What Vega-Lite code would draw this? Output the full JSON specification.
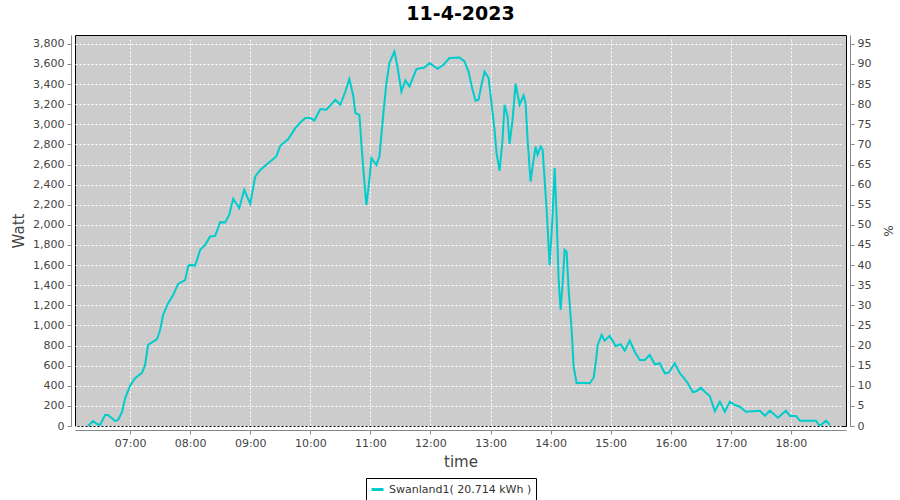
{
  "$schema": "https://vega.github.io/schema/vega-lite/v6.json",
  "width": 771,
  "height": 391,
  "autosize": "none",
  "padding": {"left": 75, "top": 35, "right": 54, "bottom": 74},
  "background": "white",
  "title": {"text": "11-4-2023", "font": "DejaVu Sans", "fontSize": 19, "fontWeight": "bold", "color": "black", "offset": 11},
  "config": {
    "view": {"fill": "#cccccc", "stroke": "black", "strokeWidth": 1},
    "axis": {
      "labelFont": "DejaVu Sans", "labelFontSize": 11, "labelColor": "#444444",
      "titleFont": "DejaVu Sans", "titleFontSize": 15, "titleFontWeight": "normal", "titleColor": "#444444",
      "domainColor": "#888888", "tickColor": "#888888", "tickSize": 4, "labelPadding": 3, "offset": 4,
      "gridColor": "white", "gridDash": [2, 2], "gridOpacity": 1, "gridWidth": 1
    }
  },
  "data": {"values": [
    {"t": "2023-04-11T06:18", "w": 0, "s": "Swanland1( 20.714 kWh )"},
    {"t": "2023-04-11T06:23", "w": 50, "s": "Swanland1( 20.714 kWh )"},
    {"t": "2023-04-11T06:27", "w": 20, "s": "Swanland1( 20.714 kWh )"},
    {"t": "2023-04-11T06:30", "w": 10, "s": "Swanland1( 20.714 kWh )"},
    {"t": "2023-04-11T06:35", "w": 110, "s": "Swanland1( 20.714 kWh )"},
    {"t": "2023-04-11T06:38", "w": 110, "s": "Swanland1( 20.714 kWh )"},
    {"t": "2023-04-11T06:45", "w": 50, "s": "Swanland1( 20.714 kWh )"},
    {"t": "2023-04-11T06:48", "w": 60, "s": "Swanland1( 20.714 kWh )"},
    {"t": "2023-04-11T06:52", "w": 140, "s": "Swanland1( 20.714 kWh )"},
    {"t": "2023-04-11T06:55", "w": 275, "s": "Swanland1( 20.714 kWh )"},
    {"t": "2023-04-11T07:00", "w": 400, "s": "Swanland1( 20.714 kWh )"},
    {"t": "2023-04-11T07:05", "w": 475, "s": "Swanland1( 20.714 kWh )"},
    {"t": "2023-04-11T07:12", "w": 530, "s": "Swanland1( 20.714 kWh )"},
    {"t": "2023-04-11T07:15", "w": 607, "s": "Swanland1( 20.714 kWh )"},
    {"t": "2023-04-11T07:18", "w": 806, "s": "Swanland1( 20.714 kWh )"},
    {"t": "2023-04-11T07:27", "w": 863, "s": "Swanland1( 20.714 kWh )"},
    {"t": "2023-04-11T07:30", "w": 955, "s": "Swanland1( 20.714 kWh )"},
    {"t": "2023-04-11T07:33", "w": 1104, "s": "Swanland1( 20.714 kWh )"},
    {"t": "2023-04-11T07:38", "w": 1221, "s": "Swanland1( 20.714 kWh )"},
    {"t": "2023-04-11T07:43", "w": 1303, "s": "Swanland1( 20.714 kWh )"},
    {"t": "2023-04-11T07:48", "w": 1413, "s": "Swanland1( 20.714 kWh )"},
    {"t": "2023-04-11T07:55", "w": 1450, "s": "Swanland1( 20.714 kWh )"},
    {"t": "2023-04-11T07:58", "w": 1590, "s": "Swanland1( 20.714 kWh )"},
    {"t": "2023-04-11T08:00", "w": 1602, "s": "Swanland1( 20.714 kWh )"},
    {"t": "2023-04-11T08:05", "w": 1595, "s": "Swanland1( 20.714 kWh )"},
    {"t": "2023-04-11T08:10", "w": 1751, "s": "Swanland1( 20.714 kWh )"},
    {"t": "2023-04-11T08:15", "w": 1801, "s": "Swanland1( 20.714 kWh )"},
    {"t": "2023-04-11T08:20", "w": 1884, "s": "Swanland1( 20.714 kWh )"},
    {"t": "2023-04-11T08:25", "w": 1890, "s": "Swanland1( 20.714 kWh )"},
    {"t": "2023-04-11T08:30", "w": 2027, "s": "Swanland1( 20.714 kWh )"},
    {"t": "2023-04-11T08:35", "w": 2023, "s": "Swanland1( 20.714 kWh )"},
    {"t": "2023-04-11T08:39", "w": 2099, "s": "Swanland1( 20.714 kWh )"},
    {"t": "2023-04-11T08:43", "w": 2259, "s": "Swanland1( 20.714 kWh )"},
    {"t": "2023-04-11T08:49", "w": 2166, "s": "Swanland1( 20.714 kWh )"},
    {"t": "2023-04-11T08:54", "w": 2348, "s": "Swanland1( 20.714 kWh )"},
    {"t": "2023-04-11T09:00", "w": 2209, "s": "Swanland1( 20.714 kWh )"},
    {"t": "2023-04-11T09:05", "w": 2481, "s": "Swanland1( 20.714 kWh )"},
    {"t": "2023-04-11T09:10", "w": 2547, "s": "Swanland1( 20.714 kWh )"},
    {"t": "2023-04-11T09:20", "w": 2630, "s": "Swanland1( 20.714 kWh )"},
    {"t": "2023-04-11T09:26", "w": 2680, "s": "Swanland1( 20.714 kWh )"},
    {"t": "2023-04-11T09:30", "w": 2786, "s": "Swanland1( 20.714 kWh )"},
    {"t": "2023-04-11T09:38", "w": 2853, "s": "Swanland1( 20.714 kWh )"},
    {"t": "2023-04-11T09:45", "w": 2962, "s": "Swanland1( 20.714 kWh )"},
    {"t": "2023-04-11T09:50", "w": 3018, "s": "Swanland1( 20.714 kWh )"},
    {"t": "2023-04-11T09:55", "w": 3062, "s": "Swanland1( 20.714 kWh )"},
    {"t": "2023-04-11T10:00", "w": 3062, "s": "Swanland1( 20.714 kWh )"},
    {"t": "2023-04-11T10:04", "w": 3038, "s": "Swanland1( 20.714 kWh )"},
    {"t": "2023-04-11T10:10", "w": 3151, "s": "Swanland1( 20.714 kWh )"},
    {"t": "2023-04-11T10:16", "w": 3144, "s": "Swanland1( 20.714 kWh )"},
    {"t": "2023-04-11T10:25", "w": 3244, "s": "Swanland1( 20.714 kWh )"},
    {"t": "2023-04-11T10:30", "w": 3194, "s": "Swanland1( 20.714 kWh )"},
    {"t": "2023-04-11T10:35", "w": 3326, "s": "Swanland1( 20.714 kWh )"},
    {"t": "2023-04-11T10:39", "w": 3450, "s": "Swanland1( 20.714 kWh )"},
    {"t": "2023-04-11T10:43", "w": 3277, "s": "Swanland1( 20.714 kWh )"},
    {"t": "2023-04-11T10:45", "w": 3111, "s": "Swanland1( 20.714 kWh )"},
    {"t": "2023-04-11T10:49", "w": 3094, "s": "Swanland1( 20.714 kWh )"},
    {"t": "2023-04-11T10:51", "w": 2813, "s": "Swanland1( 20.714 kWh )"},
    {"t": "2023-04-11T10:53", "w": 2547, "s": "Swanland1( 20.714 kWh )"},
    {"t": "2023-04-11T10:56", "w": 2199, "s": "Swanland1( 20.714 kWh )"},
    {"t": "2023-04-11T10:59", "w": 2448, "s": "Swanland1( 20.714 kWh )"},
    {"t": "2023-04-11T11:01", "w": 2663, "s": "Swanland1( 20.714 kWh )"},
    {"t": "2023-04-11T11:06", "w": 2597, "s": "Swanland1( 20.714 kWh )"},
    {"t": "2023-04-11T11:09", "w": 2680, "s": "Swanland1( 20.714 kWh )"},
    {"t": "2023-04-11T11:13", "w": 3111, "s": "Swanland1( 20.714 kWh )"},
    {"t": "2023-04-11T11:16", "w": 3410, "s": "Swanland1( 20.714 kWh )"},
    {"t": "2023-04-11T11:19", "w": 3609, "s": "Swanland1( 20.714 kWh )"},
    {"t": "2023-04-11T11:24", "w": 3724, "s": "Swanland1( 20.714 kWh )"},
    {"t": "2023-04-11T11:27", "w": 3575, "s": "Swanland1( 20.714 kWh )"},
    {"t": "2023-04-11T11:31", "w": 3326, "s": "Swanland1( 20.714 kWh )"},
    {"t": "2023-04-11T11:35", "w": 3436, "s": "Swanland1( 20.714 kWh )"},
    {"t": "2023-04-11T11:39", "w": 3376, "s": "Swanland1( 20.714 kWh )"},
    {"t": "2023-04-11T11:46", "w": 3549, "s": "Swanland1( 20.714 kWh )"},
    {"t": "2023-04-11T11:54", "w": 3565, "s": "Swanland1( 20.714 kWh )"},
    {"t": "2023-04-11T11:59", "w": 3609, "s": "Swanland1( 20.714 kWh )"},
    {"t": "2023-04-11T12:07", "w": 3552, "s": "Swanland1( 20.714 kWh )"},
    {"t": "2023-04-11T12:13", "w": 3592, "s": "Swanland1( 20.714 kWh )"},
    {"t": "2023-04-11T12:19", "w": 3659, "s": "Swanland1( 20.714 kWh )"},
    {"t": "2023-04-11T12:29", "w": 3665, "s": "Swanland1( 20.714 kWh )"},
    {"t": "2023-04-11T12:34", "w": 3625, "s": "Swanland1( 20.714 kWh )"},
    {"t": "2023-04-11T12:38", "w": 3525, "s": "Swanland1( 20.714 kWh )"},
    {"t": "2023-04-11T12:42", "w": 3343, "s": "Swanland1( 20.714 kWh )"},
    {"t": "2023-04-11T12:45", "w": 3234, "s": "Swanland1( 20.714 kWh )"},
    {"t": "2023-04-11T12:48", "w": 3244, "s": "Swanland1( 20.714 kWh )"},
    {"t": "2023-04-11T12:51", "w": 3393, "s": "Swanland1( 20.714 kWh )"},
    {"t": "2023-04-11T12:54", "w": 3525, "s": "Swanland1( 20.714 kWh )"},
    {"t": "2023-04-11T12:58", "w": 3460, "s": "Swanland1( 20.714 kWh )"},
    {"t": "2023-04-11T13:01", "w": 3211, "s": "Swanland1( 20.714 kWh )"},
    {"t": "2023-04-11T13:04", "w": 2945, "s": "Swanland1( 20.714 kWh )"},
    {"t": "2023-04-11T13:06", "w": 2713, "s": "Swanland1( 20.714 kWh )"},
    {"t": "2023-04-11T13:09", "w": 2537, "s": "Swanland1( 20.714 kWh )"},
    {"t": "2023-04-11T13:12", "w": 2846, "s": "Swanland1( 20.714 kWh )"},
    {"t": "2023-04-11T13:14", "w": 3194, "s": "Swanland1( 20.714 kWh )"},
    {"t": "2023-04-11T13:17", "w": 3078, "s": "Swanland1( 20.714 kWh )"},
    {"t": "2023-04-11T13:19", "w": 2806, "s": "Swanland1( 20.714 kWh )"},
    {"t": "2023-04-11T13:22", "w": 3045, "s": "Swanland1( 20.714 kWh )"},
    {"t": "2023-04-11T13:25", "w": 3403, "s": "Swanland1( 20.714 kWh )"},
    {"t": "2023-04-11T13:29", "w": 3194, "s": "Swanland1( 20.714 kWh )"},
    {"t": "2023-04-11T13:33", "w": 3287, "s": "Swanland1( 20.714 kWh )"},
    {"t": "2023-04-11T13:35", "w": 3211, "s": "Swanland1( 20.714 kWh )"},
    {"t": "2023-04-11T13:37", "w": 2846, "s": "Swanland1( 20.714 kWh )"},
    {"t": "2023-04-11T13:40", "w": 2431, "s": "Swanland1( 20.714 kWh )"},
    {"t": "2023-04-11T13:42", "w": 2580, "s": "Swanland1( 20.714 kWh )"},
    {"t": "2023-04-11T13:45", "w": 2779, "s": "Swanland1( 20.714 kWh )"},
    {"t": "2023-04-11T13:47", "w": 2696, "s": "Swanland1( 20.714 kWh )"},
    {"t": "2023-04-11T13:50", "w": 2779, "s": "Swanland1( 20.714 kWh )"},
    {"t": "2023-04-11T13:52", "w": 2746, "s": "Swanland1( 20.714 kWh )"},
    {"t": "2023-04-11T13:56", "w": 2160, "s": "Swanland1( 20.714 kWh )"},
    {"t": "2023-04-11T13:59", "w": 1600, "s": "Swanland1( 20.714 kWh )"},
    {"t": "2023-04-11T14:02", "w": 2100, "s": "Swanland1( 20.714 kWh )"},
    {"t": "2023-04-11T14:04", "w": 2564, "s": "Swanland1( 20.714 kWh )"},
    {"t": "2023-04-11T14:06", "w": 2083, "s": "Swanland1( 20.714 kWh )"},
    {"t": "2023-04-11T14:08", "w": 1453, "s": "Swanland1( 20.714 kWh )"},
    {"t": "2023-04-11T14:10", "w": 1154, "s": "Swanland1( 20.714 kWh )"},
    {"t": "2023-04-11T14:12", "w": 1420, "s": "Swanland1( 20.714 kWh )"},
    {"t": "2023-04-11T14:14", "w": 1751, "s": "Swanland1( 20.714 kWh )"},
    {"t": "2023-04-11T14:16", "w": 1734, "s": "Swanland1( 20.714 kWh )"},
    {"t": "2023-04-11T14:18", "w": 1353, "s": "Swanland1( 20.714 kWh )"},
    {"t": "2023-04-11T14:21", "w": 955, "s": "Swanland1( 20.714 kWh )"},
    {"t": "2023-04-11T14:23", "w": 590, "s": "Swanland1( 20.714 kWh )"},
    {"t": "2023-04-11T14:26", "w": 425, "s": "Swanland1( 20.714 kWh )"},
    {"t": "2023-04-11T14:31", "w": 431, "s": "Swanland1( 20.714 kWh )"},
    {"t": "2023-04-11T14:39", "w": 425, "s": "Swanland1( 20.714 kWh )"},
    {"t": "2023-04-11T14:43", "w": 480, "s": "Swanland1( 20.714 kWh )"},
    {"t": "2023-04-11T14:45", "w": 624, "s": "Swanland1( 20.714 kWh )"},
    {"t": "2023-04-11T14:47", "w": 806, "s": "Swanland1( 20.714 kWh )"},
    {"t": "2023-04-11T14:51", "w": 905, "s": "Swanland1( 20.714 kWh )"},
    {"t": "2023-04-11T14:54", "w": 849, "s": "Swanland1( 20.714 kWh )"},
    {"t": "2023-04-11T14:59", "w": 896, "s": "Swanland1( 20.714 kWh )"},
    {"t": "2023-04-11T15:05", "w": 796, "s": "Swanland1( 20.714 kWh )"},
    {"t": "2023-04-11T15:10", "w": 813, "s": "Swanland1( 20.714 kWh )"},
    {"t": "2023-04-11T15:14", "w": 749, "s": "Swanland1( 20.714 kWh )"},
    {"t": "2023-04-11T15:19", "w": 849, "s": "Swanland1( 20.714 kWh )"},
    {"t": "2023-04-11T15:24", "w": 739, "s": "Swanland1( 20.714 kWh )"},
    {"t": "2023-04-11T15:29", "w": 657, "s": "Swanland1( 20.714 kWh )"},
    {"t": "2023-04-11T15:34", "w": 657, "s": "Swanland1( 20.714 kWh )"},
    {"t": "2023-04-11T15:39", "w": 706, "s": "Swanland1( 20.714 kWh )"},
    {"t": "2023-04-11T15:44", "w": 614, "s": "Swanland1( 20.714 kWh )"},
    {"t": "2023-04-11T15:49", "w": 624, "s": "Swanland1( 20.714 kWh )"},
    {"t": "2023-04-11T15:54", "w": 524, "s": "Swanland1( 20.714 kWh )"},
    {"t": "2023-04-11T15:58", "w": 530, "s": "Swanland1( 20.714 kWh )"},
    {"t": "2023-04-11T16:04", "w": 624, "s": "Swanland1( 20.714 kWh )"},
    {"t": "2023-04-11T16:09", "w": 524, "s": "Swanland1( 20.714 kWh )"},
    {"t": "2023-04-11T16:12", "w": 491, "s": "Swanland1( 20.714 kWh )"},
    {"t": "2023-04-11T16:17", "w": 425, "s": "Swanland1( 20.714 kWh )"},
    {"t": "2023-04-11T16:22", "w": 335, "s": "Swanland1( 20.714 kWh )"},
    {"t": "2023-04-11T16:26", "w": 348, "s": "Swanland1( 20.714 kWh )"},
    {"t": "2023-04-11T16:30", "w": 381, "s": "Swanland1( 20.714 kWh )"},
    {"t": "2023-04-11T16:35", "w": 331, "s": "Swanland1( 20.714 kWh )"},
    {"t": "2023-04-11T16:39", "w": 298, "s": "Swanland1( 20.714 kWh )"},
    {"t": "2023-04-11T16:44", "w": 147, "s": "Swanland1( 20.714 kWh )"},
    {"t": "2023-04-11T16:49", "w": 242, "s": "Swanland1( 20.714 kWh )"},
    {"t": "2023-04-11T16:54", "w": 142, "s": "Swanland1( 20.714 kWh )"},
    {"t": "2023-04-11T16:59", "w": 242, "s": "Swanland1( 20.714 kWh )"},
    {"t": "2023-04-11T17:04", "w": 209, "s": "Swanland1( 20.714 kWh )"},
    {"t": "2023-04-11T17:09", "w": 192, "s": "Swanland1( 20.714 kWh )"},
    {"t": "2023-04-11T17:15", "w": 142, "s": "Swanland1( 20.714 kWh )"},
    {"t": "2023-04-11T17:29", "w": 152, "s": "Swanland1( 20.714 kWh )"},
    {"t": "2023-04-11T17:34", "w": 102, "s": "Swanland1( 20.714 kWh )"},
    {"t": "2023-04-11T17:39", "w": 152, "s": "Swanland1( 20.714 kWh )"},
    {"t": "2023-04-11T17:47", "w": 83, "s": "Swanland1( 20.714 kWh )"},
    {"t": "2023-04-11T17:55", "w": 152, "s": "Swanland1( 20.714 kWh )"},
    {"t": "2023-04-11T17:59", "w": 100, "s": "Swanland1( 20.714 kWh )"},
    {"t": "2023-04-11T18:05", "w": 100, "s": "Swanland1( 20.714 kWh )"},
    {"t": "2023-04-11T18:09", "w": 53, "s": "Swanland1( 20.714 kWh )"},
    {"t": "2023-04-11T18:15", "w": 53, "s": "Swanland1( 20.714 kWh )"},
    {"t": "2023-04-11T18:25", "w": 53, "s": "Swanland1( 20.714 kWh )"},
    {"t": "2023-04-11T18:28", "w": 10, "s": "Swanland1( 20.714 kWh )"},
    {"t": "2023-04-11T18:30", "w": 10, "s": "Swanland1( 20.714 kWh )"},
    {"t": "2023-04-11T18:35", "w": 53, "s": "Swanland1( 20.714 kWh )"},
    {"t": "2023-04-11T18:39", "w": 10, "s": "Swanland1( 20.714 kWh )"}
  ]},
  "layer": [
    {
      "mark": {"type": "line", "strokeWidth": 2},
      "encoding": {
        "x": {
          "field": "t", "type": "temporal", "title": "time",
          "scale": {"domain": ["2023-04-11T06:05", "2023-04-11T18:55"]},
          "axis": {"format": "%H:%M", "tickCount": "hour", "labelFlush": false, "titlePadding": 6, "labelOverlap": false}
        },
        "y": {
          "field": "w", "type": "quantitative", "title": "Watt",
          "scale": {"domain": [0, 3888], "nice": false},
          "axis": {"orient": "left", "values": [0,200,400,600,800,1000,1200,1400,1600,1800,2000,2200,2400,2600,2800,3000,3200,3400,3600,3800], "format": ",d", "titlePadding": 6}
        },
        "color": {
          "field": "s", "type": "nominal",
          "scale": {"range": ["#00cccc"]},
          "legend": {
            "orient": "none", "legendX": 291, "legendY": 443, "title": null, "direction": "horizontal",
            "symbolType": "stroke", "symbolSize": 144, "symbolStrokeWidth": 3,
            "strokeColor": "black", "fillColor": "white", "padding": 4,
            "labelFont": "DejaVu Sans", "labelFontSize": 11, "labelColor": "#333333", "labelLimit": 300
          }
        }
      }
    },
    {
      "mark": {"type": "line", "strokeOpacity": 0},
      "encoding": {
        "x": {"field": "t", "type": "temporal"},
        "y": {
          "field": "w", "type": "quantitative", "title": "%",
          "scale": {"domain": [0, 3888], "nice": false},
          "axis": {"orient": "right", "grid": false, "values": [0,200,400,600,800,1000,1200,1400,1600,1800,2000,2200,2400,2600,2800,3000,3200,3400,3600,3800], "labelExpr": "format(datum.value / 40, 'd')", "titleFontSize": 12, "titlePadding": 10}
        }
      }
    }
  ],
  "resolve": {"scale": {"y": "independent"}, "axis": {"y": "independent"}}
}
